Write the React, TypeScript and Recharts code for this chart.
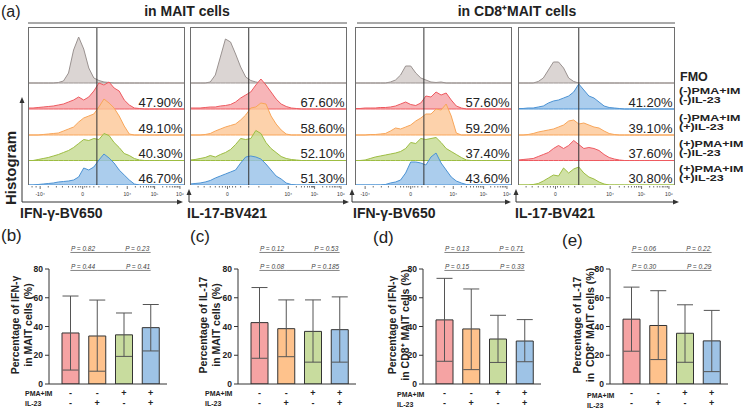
import React from 'react';
import { AreaChart, Area, XAxis, YAxis, ReferenceLine, BarChart, Bar, Cell, ErrorBar } from 'recharts';

// ---------- histogram data (heights in px above each row baseline) ----------
const BIN_X = [0, 5, 10, 15, 20, 25, 30, 35, 40, 45, 50, 55, 60, 65, 70, 75, 80, 85, 90, 95, 100, 105, 110, 115, 120, 125, 130, 135, 140, 145, 150, 155];

const P1_FMO = [0, 0, 0, 0, 0, 0, 0.5, 2, 10, 33, 46, 34, 15, 5, 2.5, 1, 0.5, 0, 0, 0, 0, 0, 0, 0, 0, 0, 0, 0, 0, 0, 0, 0];
const P1_RED = [1, 1, 1.5, 2, 2.5, 3, 4, 5, 7, 9, 12, 9, 12, 18, 26, 24, 27, 21, 18, 9, 4, 1, 0.5, 0, 0, 0, 0, 0, 0, 0, 0, 0];
const P1_ORANGE = [0, 0, 0, 0.5, 1, 1.5, 2, 4, 6, 8, 13, 17, 19, 21, 28, 36, 32, 27, 19, 9, 1, 0, 0, 0, 0, 0, 0, 0, 0, 0, 0, 0];
const P1_GREEN = [0, 0, 1, 2, 3, 4.5, 6, 8, 10, 13, 17, 21, 20, 22, 21, 27, 25, 18, 13, 7, 5, 2, 0.5, 0, 0, 0, 0, 0, 0, 0, 0, 0];
const P1_BLUE = [0, 0, 0.5, 1, 1.5, 2, 3, 3.5, 4, 5, 8, 17, 15, 18, 25, 31, 27, 22, 15, 10, 5, 1, 0, 0, 0, 0, 0, 0, 0, 0, 0, 0];

const P2_FMO = [0, 0, 0, 0, 1, 8, 26, 44, 41, 29, 16, 6, 2.5, 1, 0, 0, 0, 0, 0, 0, 0, 0, 0, 0, 0, 0, 0, 0, 0, 0, 0, 0];
const P2_RED = [1, 1, 1, 1.5, 2, 2, 3, 3.5, 4.5, 7, 11, 14, 17, 24, 30, 24, 17, 10, 5, 2.5, 1, 0.5, 0, 0, 0, 0, 0, 0, 0, 0, 0, 0];
const P2_ORANGE = [0, 0, 0, 0.5, 1.5, 4, 6, 8, 9.5, 11, 15, 20, 27, 28, 32, 31, 19, 11, 5, 1, 0, 0, 0, 0, 0, 0, 0, 0, 0, 0, 0, 0];
const P2_GREEN = [0.5, 1, 2, 3, 5, 3.5, 6, 8, 11, 16, 22, 21, 22, 30, 27, 18, 12, 8, 4, 2, 1, 0.5, 0, 0, 0, 0, 0, 0, 0, 0, 0, 0];
const P2_BLUE = [1, 1.5, 2, 3, 4.5, 7, 9, 11, 13, 15, 22, 28, 29, 28, 26, 21, 15, 9, 6, 2, 0.5, 0, 0, 0, 0, 0, 0, 0, 0, 0, 0, 0];

const P3_FMO = [0, 0, 0, 0, 0, 0, 0, 1, 3, 8, 17, 17, 10, 5, 3, 1, 0.5, 1, 0, 0, 0, 0, 0, 0, 0, 0, 0, 0, 0, 0, 0, 0];
const P3_RED = [0.5, 0.5, 1, 1, 1, 1.5, 1.5, 2, 3, 5, 7, 4.5, 3.5, 6, 13, 12, 17, 14, 16, 9, 3, 1, 0, 0, 0, 0, 0, 0, 0, 0, 0, 0];
const P3_ORANGE = [0, 0, 0, 0.5, 0.5, 1, 1.5, 4, 7, 6, 8, 10, 14, 17, 21, 21, 26, 25, 31, 19, 2, 0, 0, 0, 0, 0, 0, 0, 0, 0, 0, 0];
const P3_GREEN = [0, 0, 0.5, 2, 3.5, 4.5, 5.5, 6.5, 7.5, 9, 12, 18, 17, 22, 21, 22, 23, 18, 12, 9, 6, 3, 0.5, 0, 0, 0, 0, 0, 0, 0, 0, 0];
const P3_BLUE = [0, 0, 0, 0, 0, 0, 0.5, 2, 3, 5, 12, 23, 23, 22, 20, 28, 32, 22, 15, 8, 4, 2, 0.5, 0, 0, 0, 0, 0, 0, 0, 0, 0];

const P4_FMO = [0, 0, 0, 0, 1.5, 5, 13, 21, 21, 15, 5, 1.5, 0, 0, 0, 0, 0, 0, 0, 0, 0, 0, 0, 0, 0, 0, 0, 0, 0, 0, 0, 0];
const P4_BLUE = [0.5, 0.5, 1, 1, 2, 3, 6, 8, 9, 11, 13, 17, 25, 19, 13, 11, 7, 3, 1.5, 1, 0.5, 0, 0, 0, 0, 0, 0, 0, 0, 0, 0, 0];
const P4_ORANGE = [0, 0, 0.5, 1.5, 3, 4, 5, 6, 8, 10, 14, 15, 11, 12, 10, 8, 7, 4, 1.5, 0.5, 0, 0, 0, 0, 0, 0, 0, 0, 0, 0, 0, 0];
const P4_RED = [0.5, 1, 1.5, 2, 4, 6, 8, 12, 15, 12, 15, 20, 16, 12, 13, 12, 10, 6, 3, 1.5, 0.5, 0, 0, 0, 0, 0, 0, 0, 0, 0, 0, 0];
const P4_GREEN = [0, 0, 0, 0.5, 1.5, 4, 7, 10, 9, 17, 12, 16, 18, 12, 8, 6, 3, 1, 0, 0, 0, 0, 0, 0, 0, 0, 0, 0, 0, 0, 0, 0];

const P1_PCT = ['47.90%', '49.10%', '40.30%', '46.70%'];
const P2_PCT = ['67.60%', '58.60%', '52.10%', '51.30%'];
const P3_PCT = ['57.60%', '59.20%', '37.40%', '43.60%'];
const P4_PCT = ['41.20%', '39.10%', '37.60%', '30.80%'];

const P1_TICKS = [12, 54, 98, 125, 150];
const P1_TICK_LABELS = ['-10⁴', '0', '10⁴', '10⁵', '10⁶'];
const P1_MINOR = [4, 8, 20, 28, 34, 40, 44, 47, 50, 52, 56, 58, 61, 65, 70, 78, 88, 106, 111, 114, 117, 119, 121, 122.5, 124, 133, 137, 140, 142.5, 144.5, 146, 147.5, 149];
const P2_TICKS = [37, 97, 123, 149];
const P2_TICK_LABELS = ['0', '10⁴', '10⁵', '10⁶'];
const P2_MINOR = [8, 14, 20, 25, 29, 32, 35, 39, 42, 45, 50, 58, 68, 80, 105, 110, 113, 116, 118, 120, 121, 122, 131, 135, 138, 140.5, 142.5, 144, 146, 147.5];
const P3_TICKS = [10, 55, 97, 127, 150];
const P3_TICK_LABELS = ['-10⁴', '0', '10⁴', '10⁵', '10⁶'];
const P3_MINOR = [18, 26, 33, 40, 45, 48, 51, 53, 57, 59, 62, 66, 72, 80, 88, 105, 110, 114, 117, 120, 122, 124, 125.5, 134, 138, 141, 143.5, 145.5, 147, 148.5];
const P4_TICKS = [37, 91, 122, 149];
const P4_TICK_LABELS = ['0', '10⁴', '10⁵', '10⁶'];
const P4_MINOR = [8, 14, 20, 25, 29, 32, 35, 39, 42, 45, 50, 56, 64, 76, 100, 105, 109, 112, 115, 117, 119, 120.5, 130, 134, 137.5, 140, 142.5, 144, 146, 147.5];

// ---------- bar chart data ----------
const GROUPS = ['G1', 'G2', 'G3', 'G4'];
const PMA_SIGNS = ['-', '-', '+', '+'];
const IL23_SIGNS = ['-', '+', '-', '+'];

const B_MEAN = [35.5, 33.4, 34.2, 39.2];
const B_LOW = [9.7, 8.9, 19.2, 23];
const B_HIGH = [61.2, 58.4, 49.4, 55.3];
const B_P = ['P = 0.82', 'P = 0.23', 'P = 0.44', 'P = 0.41'];

const C_MEAN = [42.7, 38.5, 36.6, 37.8];
const C_LOW = [17.9, 19, 15.2, 15.2];
const C_HIGH = [67.1, 58.5, 58.5, 60.6];
const C_P = ['P = 0.12', 'P = 0.53', 'P = 0.08', 'P = 0.185'];

const D_MEAN = [44.6, 38.3, 31.3, 29.9];
const D_LOW = [15.8, 10, 15, 15.5];
const D_HIGH = [73.5, 66.1, 47.8, 44.8];
const D_P = ['P = 0.13', 'P = 0.71', 'P = 0.15', 'P = 0.33'];

const E_MEAN = [45.1, 40.7, 35.3, 30];
const E_LOW = [22.8, 17, 15.1, 8.6];
const E_HIGH = [67.4, 64.9, 55.1, 51.2];
const E_P = ['P = 0.06', 'P = 0.22', 'P = 0.30', 'P = 0.29'];

// comparisons: [from, to, y-level]
const BRACKET_FROM = [0, 2, 0, 1];
const BRACKET_TO = [2, 3, 1, 3];
const BRACKET_Y = [91.5, 91.5, 79, 79];
const BRACKET_ALIGN = ['start', 'middle', 'start', 'end'];

// ---------- styles ----------
const FONT = '"Liberation Sans", Arial, sans-serif';
const GRAY = { stroke: '#9a9290', fill: '#d2cbc8' };
const RED = { stroke: '#ee5a60', fill: '#f5a2a6' };
const ORANGE = { stroke: '#f8a65a', fill: '#fcc796' };
const GREEN = { stroke: '#9dbd42', fill: '#c4d990' };
const BLUE = { stroke: '#4c93d4', fill: '#96c1e8' };
const BAR_COLORS = ['#f5a3a3', '#fec28c', '#c8dc9e', '#9ec3e6'];

const PANEL_TOP = 27;
const PANEL_H = 158;
const PANEL_W = 157;
const ROW_BASE = [102, 76, 50, 24.5, 0];

const HTick = (props: any) => {
  const { x, y, payload, majors, labels } = props;
  const mi = majors.indexOf(payload.value);
  const major = mi >= 0;
  return (
    <g>
      <line x1={x} x2={x} y1={y + 1} y2={y + (major ? 4 : 2.5)} stroke="#333" strokeWidth={0.7} />
      {major && (
        <text x={x} y={y + 11} fontSize={5} textAnchor="middle" fill="#333" fontFamily={FONT}>
          {labels[mi]}
        </text>
      )}
    </g>
  );
};

function Histo({ left, curves, colors, gate, ticks, labels, minor, pct }: any) {
  const data = BIN_X.map((x, i) => {
    const row: any = { x };
    curves.forEach((c: number[], k: number) => {
      row['r' + k] = [ROW_BASE[k], ROW_BASE[k] + c[i]];
    });
    return row;
  });
  return (
    <div style={{ position: 'absolute', left, top: PANEL_TOP }}>
      <AreaChart width={PANEL_W} height={PANEL_H + 16} data={data} margin={{ top: 0, right: 0, bottom: 0, left: 0 }}>
        <XAxis
          dataKey="x"
          type="number"
          domain={[0, 155]}
          ticks={[...ticks, ...minor]}
          interval={0}
          tick={(p: any) => <HTick {...p} majors={ticks} labels={labels} />}
          tickLine={false}
          axisLine={false}
          tickSize={0}
          tickMargin={0}
          height={16}
          allowDataOverflow
        />
        <YAxis hide type="number" domain={[0, PANEL_H]} allowDataOverflow />
        {curves.map((_: any, k: number) => (
          <Area
            key={k}
            dataKey={'r' + k}
            type="linear"
            stroke={colors[k].stroke}
            strokeWidth={1}
            fill={colors[k].fill}
            fillOpacity={0.8}
            dot={false}
            activeDot={false}
            isAnimationActive={false}
          />
        ))}
        <ReferenceLine x={gate} stroke="#333" strokeWidth={1} />
      </AreaChart>
      <svg width={PANEL_W} height={PANEL_H} style={{ position: 'absolute', left: 0, top: 0, pointerEvents: 'none' }}>
        <rect x={0.5} y={0.5} width={PANEL_W - 1} height={PANEL_H} fill="none" stroke="#6e6e6e" strokeWidth={1} />
        {pct.map((t: string, i: number) => (
          <text key={t} x={PANEL_W - 2.5} y={PANEL_H - ROW_BASE[i + 1] - 2.5} textAnchor="end" fontSize={13} fill="#222" fontFamily={FONT}>
            {t}
          </text>
        ))}
      </svg>
    </div>
  );
}

const SignTick = (props: any) => {
  const { x, y, index } = props;
  return (
    <g>
      <text x={x} y={y + 12} textAnchor="middle" fontFamily={FONT} fontWeight={700} fontSize={9} fill="#222" stroke="none">
        {PMA_SIGNS[index]}
      </text>
      <text x={x} y={y + 21.5} textAnchor="middle" fontFamily={FONT} fontWeight={700} fontSize={9} fill="#222" stroke="none">
        {IL23_SIGNS[index]}
      </text>
    </g>
  );
};

const BracketText = (props: any) => {
  const { viewBox, text, align } = props;
  if (!viewBox) return null;
  const x0 = viewBox.x;
  const w = viewBox.width || 0;
  const x = align === 'start' ? x0 + 0.5 : align === 'end' ? x0 + w - 0.5 : x0 + w / 2;
  const anchor = align === 'start' ? 'start' : align === 'end' ? 'end' : 'middle';
  return (
    <text x={x} y={viewBox.y - 1.5} textAnchor={anchor} fontSize={6.5} fontStyle="italic" fill="#444" fontFamily={FONT}>
      {text}
    </text>
  );
};

function StatChart({ left, means, lows, highs, pvals }: any) {
  const data = GROUPS.map((g, i) => ({ g, v: means[i], err: [means[i] - lows[i], highs[i] - means[i]] }));
  return (
    <div style={{ position: 'absolute', left, top: 230 }}>
      <BarChart width={172} height={184} data={data} margin={{ top: 39, right: 5, bottom: 0, left: 0 }} barSize={17}>
        <XAxis
          dataKey="g"
          padding={{ left: 8, right: 3 }}
          axisLine={{ stroke: '#333' }}
          tickLine={false}
          tickSize={0}
          tickMargin={0}
          height={30}
          interval={0}
          tick={(p: any) => <SignTick {...p} />}
        />
        <YAxis
          width={49}
          type="number"
          domain={[0, 80]}
          ticks={[0, 20, 40, 60, 80]}
          axisLine={{ stroke: '#333' }}
          tickLine={{ stroke: '#333' }}
          tickSize={4}
          tickMargin={2}
          tick={{ fontSize: 8.5, fontWeight: 700, fill: '#222', fontFamily: FONT }}
          allowDataOverflow
        />
        <Bar dataKey="v" stroke="#333" strokeWidth={1} isAnimationActive={false}>
          {data.map((d, i) => (
            <Cell key={d.g} fill={BAR_COLORS[i]} />
          ))}
          <ErrorBar dataKey="err" width={8} stroke="#555" strokeWidth={1} direction="y" />
        </Bar>
        {pvals.map((t: string, i: number) => (
          <ReferenceLine
            key={t + i}
            segment={[
              { x: GROUPS[BRACKET_FROM[i]], y: BRACKET_Y[i] },
              { x: GROUPS[BRACKET_TO[i]], y: BRACKET_Y[i] },
            ]}
            stroke="#666"
            strokeWidth={0.8}
            ifOverflow="visible"
            label={(p: any) => <BracketText {...p} text={t} align={BRACKET_ALIGN[i]} />}
          />
        ))}
      </BarChart>
    </div>
  );
}

const Arrow = ({ x1, y1, x2, y2 }: any) => {
  const horiz = y1 === y2;
  const head = horiz
    ? `${x2},${y2} ${x2 - 6},${y2 - 2.5} ${x2 - 6},${y2 + 2.5}`
    : `${x2},${y2} ${x2 - 2.5},${y2 + 6} ${x2 + 2.5},${y2 + 6}`;
  return (
    <g>
      <line x1={x1} y1={y1} x2={horiz ? x2 - 5 : x2} y2={horiz ? y2 : y2 + 5} stroke="#333" strokeWidth={1} />
      <polygon points={head} fill="#333" />
    </g>
  );
};

const RotLabel = ({ x, y, text, size }: any) => (
  <text
    transform={`translate(${x},${y}) rotate(-90)`}
    textAnchor="middle"
    dominantBaseline="central"
    fontSize={size}
    fontWeight={700}
    fill="#222"
    fontFamily={FONT}
    style={{ whiteSpace: 'pre' }}
  >
    {text}
  </text>
);

// condensed two-line condition label next to the last panel
const CondLabel = ({ x, y, text }: any) => (
  <text transform={`translate(${x},${y}) scale(1,0.78)`} fontSize={12.5} fontWeight={700} fill="#222" fontFamily={FONT}>
    {text}
  </text>
);

export default function App() {
  return (
    <div style={{ position: 'absolute', left: 0, top: 0, width: 750, height: 419, background: '#fff', fontFamily: FONT }}>
      <Histo left={28} curves={[P1_FMO, P1_RED, P1_ORANGE, P1_GREEN, P1_BLUE]} colors={[GRAY, RED, ORANGE, GREEN, BLUE]} gate={68} ticks={P1_TICKS} labels={P1_TICK_LABELS} minor={P1_MINOR} pct={P1_PCT} />
      <Histo left={190} curves={[P2_FMO, P2_RED, P2_ORANGE, P2_GREEN, P2_BLUE]} colors={[GRAY, RED, ORANGE, GREEN, BLUE]} gate={58} ticks={P2_TICKS} labels={P2_TICK_LABELS} minor={P2_MINOR} pct={P2_PCT} />
      <Histo left={355} curves={[P3_FMO, P3_RED, P3_ORANGE, P3_GREEN, P3_BLUE]} colors={[GRAY, RED, ORANGE, GREEN, BLUE]} gate={68} ticks={P3_TICKS} labels={P3_TICK_LABELS} minor={P3_MINOR} pct={P3_PCT} />
      <Histo left={518} curves={[P4_FMO, P4_BLUE, P4_ORANGE, P4_RED, P4_GREEN]} colors={[GRAY, BLUE, ORANGE, RED, GREEN]} gate={60} ticks={P4_TICKS} labels={P4_TICK_LABELS} minor={P4_MINOR} pct={P4_PCT} />

      <StatChart left={0} means={B_MEAN} lows={B_LOW} highs={B_HIGH} pvals={B_P} />
      <StatChart left={189} means={C_MEAN} lows={C_LOW} highs={C_HIGH} pvals={C_P} />
      <StatChart left={374} means={D_MEAN} lows={D_LOW} highs={D_HIGH} pvals={D_P} />
      <StatChart left={561} means={E_MEAN} lows={E_LOW} highs={E_HIGH} pvals={E_P} />

      <svg width={750} height={419} style={{ position: 'absolute', left: 0, top: 0, pointerEvents: 'none' }} fontFamily={FONT}>
        <text x={1} y={17} fontSize={16} fill="#222">(a)</text>
        <text x={187} y={16} fontSize={14} fontWeight={700} textAnchor="middle" fill="#222">in MAIT cells</text>
        <line x1={28} x2={347} y1={23} y2={23} stroke="#555" strokeWidth={1} />
        <text x={517} y={16} fontSize={14} fontWeight={700} textAnchor="middle" fill="#222">in CD8⁺MAIT cells</text>
        <line x1={357} x2={675} y1={23} y2={23} stroke="#555" strokeWidth={1} />

        <text x={680} y={80.5} fontSize={12.5} fontWeight={700} fill="#222">FMO</text>
        <CondLabel x={679} y={94} text="(-)PMA+IM" />
        <CondLabel x={679} y={103} text="(-)IL-23" />
        <CondLabel x={679} y={121} text="(-)PMA+IM" />
        <CondLabel x={679} y={130} text="(+)IL-23" />
        <CondLabel x={679} y={147} text="(+)PMA+IM" />
        <CondLabel x={679} y={156} text="(-)IL-23" />
        <CondLabel x={679} y={172} text="(+)PMA+IM" />
        <CondLabel x={679} y={181} text="(+)IL-23" />

        <RotLabel x={10} y={168} text="Histogram" size={15} />
        <Arrow x1={22} y1={202} x2={22} y2={97} />
        <Arrow x1={22} y1={202} x2={183} y2={202} />
        <Arrow x1={189} y1={202} x2={189} y2={189} />
        <Arrow x1={189} y1={202} x2={349} y2={202} />
        <Arrow x1={352} y1={202} x2={352} y2={189} />
        <Arrow x1={352} y1={202} x2={511} y2={202} />
        <Arrow x1={516} y1={202} x2={516} y2={189} />
        <Arrow x1={516} y1={202} x2={679} y2={202} />

        <g fontSize={14} fontWeight={700} fill="#222">
          <text x={20} y={218}>IFN-γ-BV650</text>
          <text x={187} y={218}>IL-17-BV421</text>
          <text x={353} y={218}>IFN-γ-BV650</text>
          <text x={515} y={218}>IL-17-BV421</text>
        </g>

        <g fontSize={17} fill="#222">
          <text x={1} y={241}>(b)</text>
          <text x={190} y={242}>(c)</text>
          <text x={373} y={243}>(d)</text>
          <text x={562} y={246}>(e)</text>
        </g>

        <RotLabel x={15} y={325} text="Percentage of IFN-γ" size={10.5} />
        <RotLabel x={28} y={325} text="in MAIT cells (%)" size={10.5} />
        <RotLabel x={203} y={325} text="Percentage of IL-17" size={10.5} />
        <RotLabel x={216} y={325} text="in MAIT cells (%)" size={10.5} />
        <RotLabel x={392} y={325} text="Percentage of IFN-γ" size={10.5} />
        <RotLabel x={405} y={325} text="in CD8⁺ MAIT cells (%)" size={10.5} />
        <RotLabel x={577} y={325} text="Percentage of IL-17" size={10.5} />
        <RotLabel x={590} y={325} text="in  CD8⁺ MAIT cells (%)" size={10.5} />

        <g fontSize={7} fontWeight={700} fill="#222">
          <text x={25} y={396}>PMA+IM</text>
          <text x={25} y={405.5}>IL-23</text>
          <text x={205} y={396}>PMA+IM</text>
          <text x={205} y={405.5}>IL-23</text>
          <text x={397} y={397}>PMA+IM</text>
          <text x={397} y={406.5}>IL-23</text>
          <text x={587} y={398}>PMA+IM</text>
          <text x={587} y={407.5}>IL-23</text>
        </g>
      </svg>
    </div>
  );
}
